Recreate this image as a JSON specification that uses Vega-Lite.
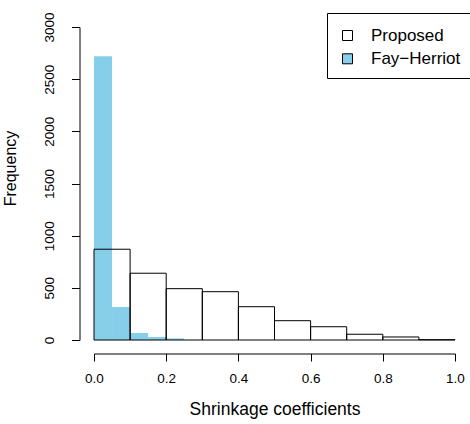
{
  "$schema": "https://vega.github.io/schema/vega-lite/v6.json",
  "width": 361,
  "height": 313,
  "autosize": {"type": "none"},
  "padding": {"left": 94, "top": 27, "right": 15, "bottom": 84},
  "background": "white",
  "config": {
    "view": {"stroke": null},
    "font": "Liberation Sans",
    "axis": {"grid": false, "domainColor": "black", "tickColor": "black", "labelColor": "black", "titleColor": "black", "titleFontWeight": "normal", "labelFont": "Liberation Sans", "titleFont": "Liberation Sans"}
  },
  "datasets": {
    "hist": [
      {"series": "Fay−Herriot", "start": 0.0, "end": 0.05, "count": 2720},
      {"series": "Fay−Herriot", "start": 0.05, "end": 0.1, "count": 316},
      {"series": "Fay−Herriot", "start": 0.1, "end": 0.15, "count": 67},
      {"series": "Fay−Herriot", "start": 0.15, "end": 0.2, "count": 29},
      {"series": "Fay−Herriot", "start": 0.2, "end": 0.25, "count": 15},
      {"series": "Proposed", "start": 0.0, "end": 0.1, "count": 870},
      {"series": "Proposed", "start": 0.1, "end": 0.2, "count": 640},
      {"series": "Proposed", "start": 0.2, "end": 0.3, "count": 492},
      {"series": "Proposed", "start": 0.3, "end": 0.4, "count": 463},
      {"series": "Proposed", "start": 0.4, "end": 0.5, "count": 319},
      {"series": "Proposed", "start": 0.5, "end": 0.6, "count": 185},
      {"series": "Proposed", "start": 0.6, "end": 0.7, "count": 127},
      {"series": "Proposed", "start": 0.7, "end": 0.8, "count": 55},
      {"series": "Proposed", "start": 0.8, "end": 0.9, "count": 29},
      {"series": "Proposed", "start": 0.9, "end": 1.0, "count": 3}
    ]
  },
  "data": {"name": "hist"},
  "encoding": {
    "x": {
      "field": "start", "type": "quantitative",
      "scale": {"domain": [0, 1], "nice": false, "zero": false},
      "axis": {
        "values": [0, 0.2, 0.4, 0.6, 0.8, 1.0], "format": ".1f",
        "offset": 13.5, "tickSize": 7.5, "labelFontSize": 13.5, "labelBaseline": "alphabetic",
        "labelPadding": 21, "labelFlush": false, "labelOverlap": false,
        "title": "Shrinkage coefficients", "titleFontSize": 17.5, "titleBaseline": "alphabetic",
        "titleY": 61, "titleX": 180.5, "titleAlign": "center"
      }
    },
    "x2": {"field": "end"},
    "y": {
      "field": "count", "type": "quantitative",
      "scale": {"domain": [0, 3000], "nice": false},
      "axis": {
        "values": [0, 500, 1000, 1500, 2000, 2500, 3000], "format": "d",
        "offset": 14.5, "tickSize": 8, "labelFontSize": 13.5, "labelAngle": -90,
        "labelAlign": "center", "labelBaseline": "alphabetic", "labelPadding": 18,
        "labelOverlap": false, "labelFlush": false,
        "title": "Frequency", "titleFontSize": 16, "titleAngle": -90, "titleAlign": "center",
        "titleBaseline": "alphabetic", "titleX": -64, "titleY": 141
      }
    },
    "y2": {"datum": 0}
  },
  "layer": [
    {
      "transform": [{"filter": "datum.series === 'Fay−Herriot'"}],
      "mark": {"type": "rect", "strokeWidth": 0},
      "encoding": {
        "fill": {
          "field": "series", "type": "nominal",
          "scale": {"domain": ["Proposed", "Fay−Herriot"], "range": ["white", "#87CEEB"]},
          "legend": {
            "orient": "none", "legendX": 233, "legendY": -14,
            "title": " ", "titleFontSize": 1, "titlePadding": 2,
            "padding": 11, "strokeColor": "black", "fillColor": "white", "cornerRadius": 0,
            "symbolType": "square", "symbolSize": 100, "symbolStrokeColor": "black", "symbolStrokeWidth": 1,
            "symbolOffset": 1, "labelOffset": 15, "labelFontSize": 17, "labelColor": "black",
            "labelFont": "Liberation Sans", "rowPadding": 5.3, "labelLimit": 300
          }
        }
      }
    },
    {
      "transform": [{"filter": "datum.series === 'Proposed'"}],
      "mark": {"type": "rect", "fillOpacity": 0, "stroke": "black", "strokeWidth": 1},
      "encoding": {
        "fill": {"field": "series", "type": "nominal"}
      }
    }
  ]
}
